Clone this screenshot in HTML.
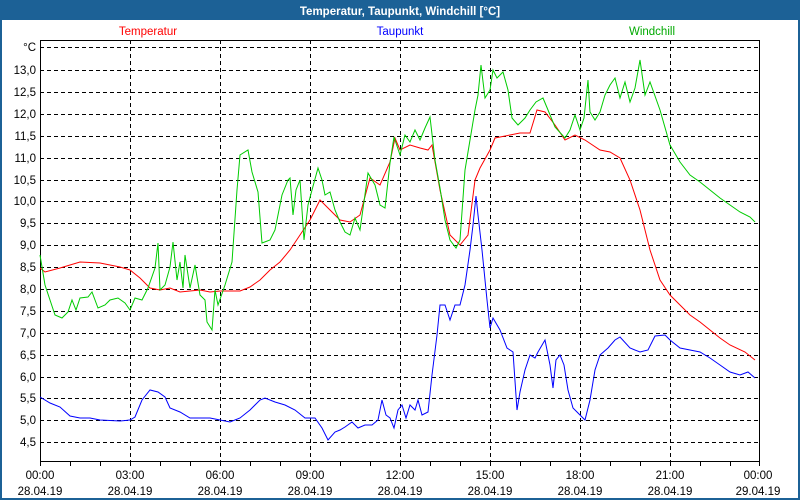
<!DOCTYPE html>
<html><head><meta charset="utf-8"><style>
html,body{margin:0;padding:0;background:#fff}
svg{display:block}
text{font-family:"Liberation Sans",sans-serif;font-size:11.5px}
</style></head><body>
<svg width="800" height="500" xmlns="http://www.w3.org/2000/svg">
<rect x="0" y="0" width="800" height="500" fill="#1c6196"/>
<rect x="2" y="20" width="796" height="478" fill="#fff"/>
<text x="400" y="15" fill="#fff" font-weight="bold" font-size="12" text-anchor="middle">Temperatur, Taupunkt, Windchill [°C]</text>
<text x="148" y="35" fill="#f00" text-anchor="middle">Temperatur</text>
<text x="400" y="35" fill="#00f" text-anchor="middle">Taupunkt</text>
<text x="652" y="35" fill="#0a0" text-anchor="middle">Windchill</text>
<g stroke="#000" stroke-dasharray="4,3" stroke-width="1">
<path d="M40 47.5H760M40 70.5H760M40 92.5H760M40 114.5H760M40 136.5H760M40 158.5H760M40 180.5H760M40 201.5H760M40 223.5H760M40 245.5H760M40 267.5H760M40 289.5H760M40 311.5H760M40 333.5H760M40 355.5H760M40 377.5H760M40 398.5H760M40 420.5H760M40 442.5H760"/>
<path d="M130.5 40V461M220.5 40V461M310.5 40V461M400.5 40V461M490.5 40V461M580.5 40V461M670.5 40V461"/>
</g>
<rect x="40.5" y="40.5" width="719" height="421" fill="none" stroke="#000"/>
<path d="M40.5 461V466M70.5 461V466M100.5 461V466M130.5 461V466M160.5 461V466M190.5 461V466M220.5 461V466M250.5 461V466M280.5 461V466M310.5 461V466M340.5 461V466M370.5 461V466M400.5 461V466M430.5 461V466M460.5 461V466M490.5 461V466M520.5 461V466M550.5 461V466M580.5 461V466M610.5 461V466M640.5 461V466M670.5 461V466M700.5 461V466M730.5 461V466M759.5 461V466" stroke="#000"/>
<g text-anchor="end">
<text x="36" y="51">°C</text><text x="36" y="74">13,0</text><text x="36" y="96">12,5</text><text x="36" y="118">12,0</text><text x="36" y="140">11,5</text><text x="36" y="162">11,0</text><text x="36" y="184">10,5</text><text x="36" y="205">10,0</text><text x="36" y="227">9,5</text><text x="36" y="249">9,0</text><text x="36" y="271">8,5</text><text x="36" y="293">8,0</text><text x="36" y="315">7,5</text><text x="36" y="337">7,0</text><text x="36" y="359">6,5</text><text x="36" y="381">6,0</text><text x="36" y="402">5,5</text><text x="36" y="424">5,0</text><text x="36" y="446">4,5</text>
</g>
<g text-anchor="middle">
<text x="40" y="479">00:00</text><text x="40" y="495">28.04.19</text>
<text x="130" y="479">03:00</text><text x="130" y="495">28.04.19</text>
<text x="220" y="479">06:00</text><text x="220" y="495">28.04.19</text>
<text x="310" y="479">09:00</text><text x="310" y="495">28.04.19</text>
<text x="400" y="479">12:00</text><text x="400" y="495">28.04.19</text>
<text x="490" y="479">15:00</text><text x="490" y="495">28.04.19</text>
<text x="580" y="479">18:00</text><text x="580" y="495">28.04.19</text>
<text x="670" y="479">21:00</text><text x="670" y="495">28.04.19</text>
<text x="758" y="479">00:00</text><text x="758" y="495">29.04.19</text>
</g>
<g fill="none" stroke-width="1">
<polyline stroke="#0000ff" points="40,397 50,403 60,407 70,416 80,418 90,418 100,420 120,421 130,420 135,417 142,400 150,390 158,392 165,397 170,408 180,412 190,418 200,418 210,418 220,420 230,422 240,418 250,410 260,400 265,398 275,402 285,405 295,410 305,418 315,418 322,428 328,440 335,432 340,430 345,427 352,422 358,428 365,425 372,425 378,420 382,400 386,415 390,418 394,428 398,410 402,405 406,418 410,405 415,410 418,400 422,415 428,412 432,375 437,335 440,305 445,305 450,320 455,305 460,305 465,285 470,250 473,225 476,196 478,215 482,250 487,300 490,328 493,318 500,330 507,348 513,352 517,410 520,392 525,370 530,355 535,358 538,352 545,340 550,365 553,388 556,360 560,355 564,365 568,390 573,408 580,415 585,420 590,400 595,370 600,355 608,348 615,340 620,337 630,348 640,352 648,350 655,336 665,335 670,340 680,348 690,350 700,352 710,358 720,365 730,372 740,375 748,372 755,378"/>
<polyline stroke="#ff0000" points="40,268 45,272 60,268 80,262 100,263 120,267 130,270 140,278 150,288 160,290 170,288 180,292 200,290 210,292 220,291 240,291 250,287 260,280 270,270 280,262 290,250 300,235 310,220 320,200 330,210 340,220 350,222 360,215 370,178 380,185 390,162 395,138 400,150 410,145 420,148 428,150 432,145 440,190 450,235 460,245 468,235 475,180 480,168 490,150 495,138 510,135 520,133 530,133 537,110 545,112 555,125 565,140 575,135 585,140 600,150 610,152 620,158 630,180 640,210 650,250 660,280 670,295 680,305 690,315 700,322 710,330 720,338 730,345 745,352 755,360"/>
<polyline stroke="#00cc00" points="40,255 45,285 55,315 62,318 68,312 72,300 76,310 80,298 88,297 92,292 98,308 105,305 110,300 118,298 125,303 130,310 135,298 142,300 148,288 155,268 158,243 160,290 165,285 170,267 173,242 177,280 180,262 183,288 185,255 190,288 195,265 200,295 205,300 207,322 212,330 215,290 218,305 225,285 232,262 237,190 240,155 248,150 252,172 258,192 262,243 270,240 275,230 282,195 288,180 290,178 293,215 296,190 300,180 304,240 308,205 312,190 318,168 322,180 325,195 330,192 335,210 340,222 345,232 350,235 355,218 360,230 368,173 375,185 380,205 385,208 390,163 394,137 400,155 405,135 410,142 415,130 420,140 425,128 430,117 435,160 440,188 445,220 450,240 456,248 460,240 465,170 470,140 475,110 478,95 481,65 485,98 490,90 493,70 497,78 503,72 508,90 512,118 518,125 525,118 530,110 536,102 543,98 548,110 555,127 565,138 570,130 575,115 580,130 584,118 588,80 590,112 595,120 600,112 605,95 610,85 615,78 620,98 625,82 630,102 635,88 640,60 645,95 650,82 660,110 670,145 680,162 690,175 700,182 710,190 720,198 730,205 740,212 750,217 755,222"/>
</g>
</svg>
</body></html>
